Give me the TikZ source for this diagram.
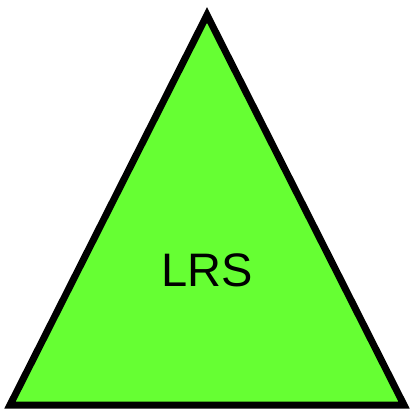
\documentclass[tikz,border=0pt]{standalone}
\usepackage{fontspec}
\setmainfont{Liberation Sans}
\definecolor{trigreen}{HTML}{66FF33}
\begin{document}
\begin{tikzpicture}[x=1pt,y=-1pt,
  tri/.style={draw=black,fill=trigreen,line width=7pt,miter limit=10,line join=miter}]
\useasboundingbox (0,0) rectangle (416,412);
\coordinate (A) at (207,15);
\coordinate (B) at (10,405);
\coordinate (C) at (404,405);
\filldraw[tri] (A) -- (B) -- (C) -- cycle;
\node[font=\fontsize{47}{50}\selectfont,inner sep=0pt] (lbl) at (207.5,270) {LRS};
\end{tikzpicture}
\end{document}
